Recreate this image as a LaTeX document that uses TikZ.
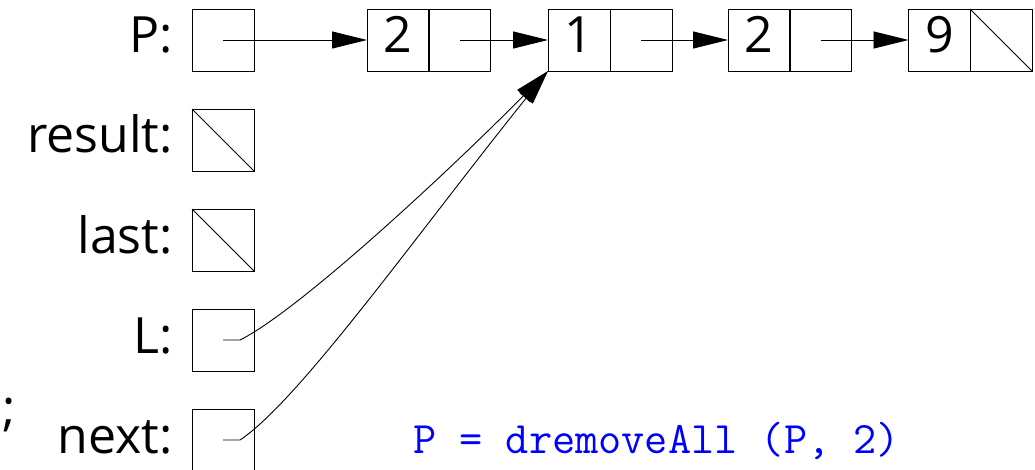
\documentclass[tikz,border=0pt]{standalone}
\usepackage{fontspec}
\setmainfont{Open Sans}
\usetikzlibrary{arrows.meta}
\tikzset{
  cell/.style={draw, line width=0.9pt, minimum size=62pt, inner sep=0pt, outer sep=0pt,
    font=\fontsize{50}{50}\selectfont, text height=36pt, text depth=10pt},
  lbl/.style={anchor=base east, inner sep=0pt, font=\fontsize{50}{50}\selectfont},
  ptr/.style={line width=0.9pt, -{Triangle[length=35pt,width=17pt]}},
  nil/.style={line width=0.9pt},
  code/.style={anchor=base west, inner sep=0pt, text=blue, font=\fontsize{45}{45}\ttfamily}
}
\begin{document}
\begin{tikzpicture}[x=1pt,y=-1pt]
\useasboundingbox (0,0) rectangle (1035,470);
% variable boxes
\node[cell] (P) at (223,40) {};
\node[cell] (R) at (223,140) {};
\node[cell] (La) at (223,240) {};
\node[cell] (L) at (223,340) {};
\node[cell] (N) at (223,440) {};
% labels
\node[lbl] (lP) at (173,53) {P:};
\node[lbl] (lR) at (173,153) {result:};
\node[lbl] (lLa) at (173,253) {last:};
\node[lbl] (lL) at (173,353) {L:};
\node[lbl] (lN) at (173,453) {next:};
\node[anchor=base west, inner sep=0pt, font=\fontsize{50}{50}\selectfont] (semi) at (2,425) {;};
% list cells
\node[cell] (a1) at (398,40) {2};
\node[cell] (b1) at (459.5,40) {};
\node[cell] (a2) at (579,40) {1};
\node[cell] (b2) at (641,40) {};
\node[cell] (a3) at (759,40) {2};
\node[cell] (b3) at (820.5,40) {};
\node[cell] (a4) at (939.5,40) {9};
\node[cell] (b4) at (1001,40) {};
% null pointers
\draw[nil] (R.north west) -- (R.south east);
\draw[nil] (La.north west) -- (La.south east);
\draw[nil] (b4.north west) -- (b4.south east);
% pointers
\draw[ptr] (P.center) -- (a1.west);
\draw[ptr] (b1.center) -- (a2.west);
\draw[ptr] (b2.center) -- (a3.west);
\draw[ptr] (b3.center) -- (a4.west);
\draw[ptr] (L.center) -- ++(17,0) .. controls +(60,-30) and +(-98,99) .. (a2.south west);
\draw[ptr] (N.center) -- ++(17,0) .. controls +(60,-40) and +(-128,159) .. (a2.south west);
% code
\node[code] (cmd) at (413,453) {P = dremoveAll (P, 2)};
\end{tikzpicture}
\end{document}
